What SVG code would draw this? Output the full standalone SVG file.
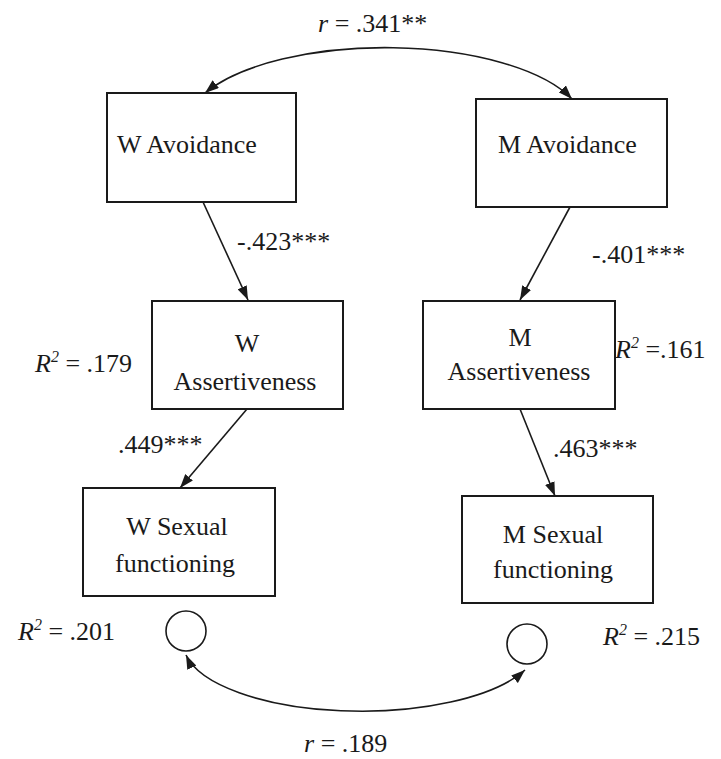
<svg xmlns="http://www.w3.org/2000/svg" width="721" height="759" viewBox="0 0 721 759">
<style>
.box{fill:#fff;stroke:#1a1a1a;stroke-width:2}
.lbl{font-family:"Liberation Serif","Times New Roman","DejaVu Serif",serif;font-size:26px;fill:#1a1a1a}
.mid{text-anchor:middle}
.it{font-style:italic}
.edge{fill:none;stroke:#1a1a1a;stroke-width:1.6}
.err{fill:#fff;stroke:#1a1a1a;stroke-width:1.6}
</style>
<defs>
<marker id="ah" viewBox="0 0 14 10" refX="14" refY="5" markerWidth="14" markerHeight="10" markerUnits="userSpaceOnUse" orient="auto-start-reverse">
<path d="M0,0 L14,5 L0,10 z" fill="#1a1a1a"/>
</marker>
</defs>
<rect width="721" height="759" fill="#fff"/>
<g id="connectors">
<path class="edge" d="M205,93 A200,80 0 0,1 572,99" marker-start="url(#ah)" marker-end="url(#ah)"/>
<path class="edge" d="M186,655 A178,68 0 0,0 525,670" marker-start="url(#ah)" marker-end="url(#ah)"/>
<line class="edge" x1="203" y1="202" x2="248" y2="300" marker-end="url(#ah)"/>
<line class="edge" x1="570" y1="207" x2="520" y2="300" marker-end="url(#ah)"/>
<line class="edge" x1="247" y1="409" x2="180" y2="488" marker-end="url(#ah)"/>
<line class="edge" x1="520" y1="409" x2="555" y2="496" marker-end="url(#ah)"/>
</g>
<g id="w-avoidance">
<rect class="box" x="107" y="93" width="189" height="109"/>
<text class="lbl" x="117" y="153">W Avoidance</text>
</g>
<g id="m-avoidance">
<rect class="box" x="476" y="99" width="191" height="108"/>
<text class="lbl" x="498" y="153">M Avoidance</text>
</g>
<g id="w-assertiveness">
<rect class="box" x="152" y="301" width="191" height="108"/>
<text class="lbl mid" x="247" y="352">W</text>
<text class="lbl mid" x="245" y="390">Assertiveness</text>
</g>
<g id="m-assertiveness">
<rect class="box" x="423" y="301" width="192" height="108"/>
<text class="lbl mid" x="520" y="346">M</text>
<text class="lbl mid" x="519" y="380">Assertiveness</text>
</g>
<g id="w-sexual">
<rect class="box" x="83" y="488" width="192" height="108"/>
<text class="lbl mid" x="177" y="535">W Sexual</text>
<text class="lbl mid" x="175" y="572">functioning</text>
</g>
<g id="m-sexual">
<rect class="box" x="462" y="496" width="191" height="107"/>
<text class="lbl mid" x="553" y="543">M Sexual</text>
<text class="lbl mid" x="553" y="578">functioning</text>
</g>
<g id="w-error">
<circle class="err" cx="186" cy="631" r="20"/>
</g>
<g id="m-error">
<circle class="err" cx="527" cy="644" r="20"/>
</g>
<g id="labels">
<text class="lbl" x="318" y="32"><tspan class="it">r</tspan> = .341**</text>
<text class="lbl" x="237" y="250">-.423***</text>
<text class="lbl" x="592" y="263">-.401***</text>
<text class="lbl" x="118" y="453">.449***</text>
<text class="lbl" x="553" y="457">.463***</text>
<text class="lbl" x="35" y="372"><tspan class="it">R</tspan><tspan class="it" font-size="16" dy="-10">2</tspan><tspan dy="10"> = .179</tspan></text>
<text class="lbl" x="615" y="358"><tspan class="it">R</tspan><tspan class="it" font-size="16" dy="-10">2</tspan><tspan dy="10"> =.161</tspan></text>
<text class="lbl" x="18" y="640"><tspan class="it">R</tspan><tspan class="it" font-size="16" dy="-10">2</tspan><tspan dy="10"> = .201</tspan></text>
<text class="lbl" x="603" y="645"><tspan class="it">R</tspan><tspan class="it" font-size="16" dy="-10">2</tspan><tspan dy="10"> = .215</tspan></text>
<text class="lbl" x="304" y="752"><tspan class="it">r</tspan> = .189</text>
</g>
</svg>
